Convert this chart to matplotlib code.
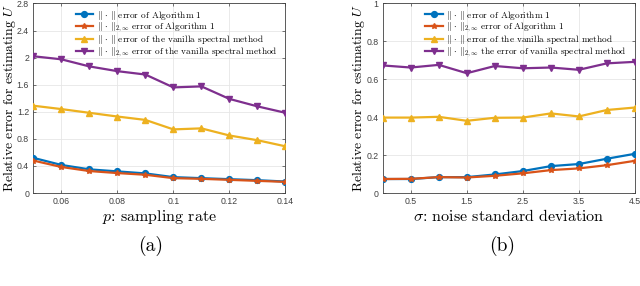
import matplotlib
import matplotlib.pyplot as plt

matplotlib.use('Agg')

plt.rcParams['font.family'] = 'serif'
plt.rcParams['font.serif'] = ['cmr10']
plt.rcParams['mathtext.fontset'] = 'cm'
plt.rcParams['axes.formatter.use_mathtext'] = True

# panel (a): sampling rate
p_vals = [0.05, 0.06, 0.07, 0.08, 0.09, 0.10, 0.11, 0.12, 0.13, 0.14]
a_alg_op = [0.52, 0.415, 0.35, 0.32, 0.29, 0.235, 0.22, 0.205, 0.19, 0.17]
a_alg_2inf = [0.48, 0.385, 0.325, 0.295, 0.27, 0.22, 0.21, 0.195, 0.18, 0.165]
a_van_op = [1.29, 1.24, 1.185, 1.13, 1.08, 0.94, 0.955, 0.85, 0.78, 0.69]
a_van_2inf = [2.02, 1.975, 1.87, 1.80, 1.75, 1.56, 1.575, 1.39, 1.28, 1.185]

# panel (b): noise level
sigma_vals = [0, 0.5, 1.0, 1.5, 2.0, 2.5, 3.0, 3.5, 4.0, 4.5]
b_alg_op = [0.074, 0.074, 0.084, 0.084, 0.098, 0.116, 0.142, 0.153, 0.181, 0.207]
b_alg_2inf = [0.074, 0.075, 0.084, 0.082, 0.091, 0.104, 0.121, 0.13, 0.147, 0.17]
b_van_op = [0.398, 0.398, 0.402, 0.381, 0.397, 0.398, 0.42, 0.404, 0.438, 0.451]
b_van_2inf = [0.673, 0.662, 0.676, 0.632, 0.67, 0.658, 0.662, 0.65, 0.684, 0.692]

colors = ['#0072BD', '#D95319', '#EDB120', '#7E2F8E']
markers = ['o', '*', '^', 'v']

labels_a = [r'$\|\,\cdot\,\|$ error of Algorithm 1',
            r'$\|\,\cdot\,\|_{2,\infty}$ error of Algorithm 1',
            r'$\|\,\cdot\,\|$ error of the vanilla spectral method',
            r'$\|\,\cdot\,\|_{2,\infty}$ error of the vanilla spectral method']
labels_b = labels_a[:3] + [r'$\|\,\cdot\,\|_{2,\infty}$ the error of vanilla spectral method']

tick_font = 'Liberation Sans'


def panel(ax, x, series, labels, xlabel, yticks, xticks, xlim):
    for i, y in enumerate(series):
        ax.plot(x, y, color=colors[i], marker=markers[i], lw=1.6,
                markersize=4.2 if markers[i] != '*' else 4, label=labels[i],
                zorder=3)
    ax.set_xlim(xlim)
    ax.set_ylim(yticks[0], yticks[-1])
    ax.set_yticks(yticks)
    ax.set_xticks(xticks)
    ax.set_yticklabels(['%g' % v for v in yticks], family=tick_font, fontsize=6.3,
                       color='#404040')
    ax.set_xticklabels(['%g' % v for v in xticks], family=tick_font, fontsize=6.3,
                       color='#404040')
    ax.tick_params(direction='in', length=2.5, width=0.5, top=True, right=True,
                   pad=3, colors='#404040')
    ax.grid(True, color='#e6e6e6', lw=0.6)
    ax.set_axisbelow(True)
    for s in ax.spines.values():
        s.set_color('#404040')
        s.set_linewidth(0.6)
    ax.set_xlabel(xlabel, fontsize=11.5, labelpad=1)
    ax.set_ylabel(r'Relative error for estimating $U$', fontsize=9.9)
    ax.yaxis.set_label_coords(-0.062, 0.5)
    ax.legend(loc='upper right', bbox_to_anchor=(0.968, 0.972), fontsize=6.7,
              frameon=False, handlelength=1.9, borderaxespad=0,
              labelspacing=-0.12, handletextpad=0.35, borderpad=0)


fig = plt.figure(figsize=(6.4, 2.86), dpi=100)
ax1 = fig.add_axes([0.052, 0.325, 0.394, 0.663])
ax2 = fig.add_axes([0.598, 0.325, 0.394, 0.663])

panel(ax1, p_vals, [a_alg_op, a_alg_2inf, a_van_op, a_van_2inf], labels_a,
      r'$p$: sampling rate', [0, 0.4, 0.8, 1.2, 1.6, 2.0, 2.4, 2.8],
      [0.06, 0.08, 0.10, 0.12, 0.14], (0.05, 0.14))
panel(ax2, sigma_vals, [b_alg_op, b_alg_2inf, b_van_op, b_van_2inf], labels_b,
      r'$\sigma$: noise standard deviation', [0, 0.2, 0.4, 0.6, 0.8, 1.0],
      [0.5, 1.5, 2.5, 3.5, 4.5], (0, 4.5))

fig.text(0.236, 0.14, '(a)', fontsize=14, ha='center', va='center')
fig.text(0.785, 0.14, '(b)', fontsize=14, ha='center', va='center')

fig.savefig('out.png', dpi=100)
